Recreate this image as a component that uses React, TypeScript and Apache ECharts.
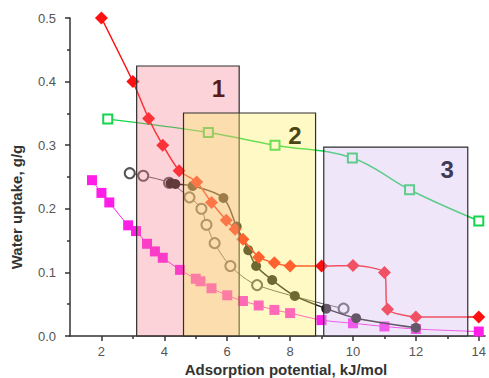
import React, { useEffect, useRef } from "react";
import * as echarts from "echarts";

const FONT = "'Liberation Sans', Arial, sans-serif";

const xMajorTicks = [2, 4, 6, 8, 10, 12, 14];
const xMinorTicks = [3, 5, 7, 9, 11, 13];

const redDiamonds: [number, number][] = [
  [2.0, 0.5], [3.0, 0.4], [3.5, 0.342], [3.95, 0.3], [4.47, 0.26], [5.03, 0.242],
  [5.5, 0.21], [5.97, 0.182], [6.25, 0.168], [6.5, 0.152], [7.0, 0.124], [7.5, 0.115],
  [8.0, 0.11], [9.0, 0.11], [10.0, 0.111], [11.0, 0.1], [11.1, 0.042], [12.0, 0.03], [14.0, 0.03],
];

const greenSquares: [number, number][] = [
  [2.2, 0.341], [5.4, 0.32], [7.52, 0.3], [9.98, 0.28], [11.8, 0.23], [14.0, 0.181],
];

const magentaSquares: [number, number][] = [
  [1.7, 0.245], [2.0, 0.225], [2.25, 0.21], [2.85, 0.174], [3.1, 0.165], [3.45, 0.145],
  [3.7, 0.133], [3.95, 0.123], [4.5, 0.104], [5.0, 0.09], [5.15, 0.086], [5.5, 0.075],
  [6.0, 0.064], [6.5, 0.055], [7.0, 0.048], [7.5, 0.041], [8.0, 0.036], [9.0, 0.025],
  [10.0, 0.02], [11.0, 0.015], [12.0, 0.011], [14.0, 0.007],
];

const openCircles: [number, number][] = [
  [2.9, 0.256], [3.33, 0.252], [4.15, 0.241], [4.8, 0.218], [5.18, 0.2], [5.34, 0.175],
  [5.6, 0.146], [6.1, 0.11], [6.95, 0.08], [9.7, 0.043],
];

const filledCircles: [number, number][] = [
  [4.2, 0.24], [4.35, 0.239], [4.9, 0.236], [5.88, 0.217], [6.3, 0.172], [6.67, 0.135],
  [6.92, 0.11], [7.43, 0.088], [8.15, 0.063], [9.15, 0.043], [10.1, 0.028], [12.0, 0.013],
];

// regions: [xStart, xEnd, yTop, label]
const regionBoxes: [number, number, number, string][] = [
  [3.12, 6.38, 0.4245, "1"],
  [4.61, 8.81, 0.3506, "2"],
  [9.07, 13.65, 0.297, "3"],
];
const regionFills = [
  "rgba(242,120,140,0.33)",
  "rgba(255,238,100,0.37)",
  "rgba(215,188,242,0.38)",
];
const regionLabelColors = ["#5a1a1a", "#4a4514", "#3e3a55"];

export default function App() {
  const ref = useRef<HTMLDivElement>(null);
  useEffect(() => {
    if (!ref.current) return;
    const chart = echarts.init(ref.current, undefined, { renderer: "svg" });
    const axisColor = "#333";
    const lineSeries = (
      name: string,
      data: [number, number][],
      color: string,
      symbol: string,
      symbolSize: number,
      lineWidth: number,
      z: number,
      smooth: number
    ) => ({
      name,
      type: "line",
      data,
      smooth,
      symbol,
      symbolSize,
      showSymbol: true,
      z,
      lineStyle: { color, width: lineWidth },
      itemStyle: { color, borderColor: color, borderWidth: symbol.startsWith("empty") ? 1.3 : 0 },
    });
    chart.setOption({
      animation: false,
      grid: { left: 70, right: 1.7, top: 18, bottom: 42 },
      xAxis: [
        {
          type: "value",
          min: 1,
          max: 14.2,
          axisLine: { show: true, lineStyle: { color: axisColor, width: 1.5 } },
          axisTick: { show: true, customValues: xMajorTicks, length: 5, lineStyle: { color: axisColor, width: 1.5 } },
          axisLabel: { customValues: xMajorTicks, color: "#555", fontSize: 13, margin: 9, fontFamily: FONT },
          splitLine: { show: false },
        },
        {
          type: "value",
          min: 1,
          max: 14.2,
          position: "bottom",
          axisLine: { show: false },
          axisTick: { show: true, customValues: xMinorTicks, length: 3, lineStyle: { color: axisColor, width: 1.5 } },
          axisLabel: { show: false },
          splitLine: { show: false },
        },
      ],
      yAxis: {
        type: "value",
        min: 0,
        max: 0.5,
        interval: 0.1,
        axisLine: { show: true, lineStyle: { color: axisColor, width: 1.5 } },
        axisTick: { show: true, length: 5, lineStyle: { color: axisColor, width: 1.5 } },
        minorTick: { show: true, splitNumber: 2, length: 3, lineStyle: { color: axisColor, width: 1.5 } },
        axisLabel: {
          color: "#555",
          fontSize: 13,
          margin: 14,
          fontFamily: FONT,
          formatter: (v: number) => v.toFixed(1),
        },
        splitLine: { show: false },
        minorSplitLine: { show: false },
      },
      graphic: [
        {
          type: "text",
          x: 16,
          y: 207,
          rotation: Math.PI / 2,
          style: {
            text: "Water uptake, g/g",
            font: `bold 15px ${FONT}`,
            fill: "#333",
            align: "center",
            verticalAlign: "middle",
          },
        },
        {
          type: "text",
          x: 286,
          y: 369,
          style: {
            text: "Adsorption potential, kJ/mol",
            font: `bold 15px ${FONT}`,
            fill: "#333",
            align: "center",
            verticalAlign: "middle",
          },
        },
      ],
      series: [
        lineSeries("magenta", magentaSquares, "#ff1ee8", "rect", 10, 1, 2, 0.3),
        lineSeries("green", greenSquares, "#14d64c", "emptyRect", 9, 1.5, 2, 0.4),
        lineSeries("open", openCircles, "#555555", "emptyCircle", 10, 1, 2, 0.3),
        lineSeries("filled", filledCircles, "#1e1a14", "circle", 10, 1.5, 3, 0.3),
        lineSeries("red", redDiamonds, "#ff1010", "diamond", 13, 1.5, 4, 0.2),
        {
          type: "custom",
          z: 10,
          silent: true,
          data: regionBoxes.map((b) => [b[0], b[1], b[2]]),
          encode: { x: [0, 1], y: 2 },
          renderItem: (params: any, api: any) => {
            const i = params.dataIndex;
            const p0 = api.coord([api.value(0), api.value(2)]);
            const p1 = api.coord([api.value(1), 0]);
            return {
              type: "group",
              children: [
                {
                  type: "rect",
                  shape: { x: p0[0], y: p0[1], width: p1[0] - p0[0], height: p1[1] - p0[1] },
                  style: { fill: regionFills[i], stroke: "#2e2e2e", lineWidth: 1.2 },
                },
                {
                  type: "text",
                  style: {
                    text: regionBoxes[i][3],
                    x: p1[0] - 14,
                    y: p0[1] + 10,
                    align: "right",
                    verticalAlign: "top",
                    font: `bold 24px ${FONT}`,
                    fill: regionLabelColors[i],
                  },
                },
              ],
            };
          },
        },
      ],
    });
    return () => chart.dispose();
  }, []);
  return (
    <div
      ref={ref}
      style={{ position: "fixed", left: 0, top: 0, width: 489, height: 378, background: "#fff" }}
    />
  );
}
